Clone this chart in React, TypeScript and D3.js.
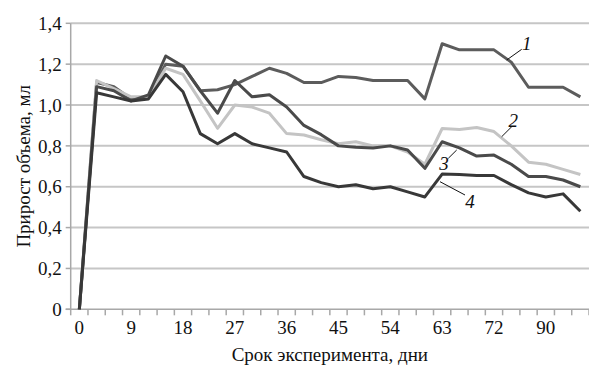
import React, { useEffect, useRef } from "react";
import * as d3 from "d3";

const W = 589, H = 365;

// days of experiment (category axis, every 3rd one labelled)
const days = [0, 3, 6, 9, 12, 15, 18, 21, 24, 27, 30, 33, 36, 39, 42, 45, 48, 51, 54, 57, 60, 63, 66, 69, 72, 78, 84, 90, 93, 96];

const s1 = [0, 1.11, 1.09, 1.03, 1.04, 1.2, 1.19, 1.07, 1.075, 1.1, 1.14, 1.18, 1.155, 1.11, 1.11, 1.14, 1.135, 1.12, 1.12, 1.12, 1.03, 1.3, 1.27, 1.27, 1.27, 1.21, 1.087, 1.087, 1.087, 1.04];
const s2 = [0, 1.12, 1.08, 1.04, 1.04, 1.18, 1.15, 1.02, 0.886, 1.0, 0.99, 0.96, 0.86, 0.853, 0.83, 0.81, 0.82, 0.8, 0.8, 0.77, 0.71, 0.885, 0.88, 0.89, 0.87, 0.8, 0.72, 0.71, 0.685, 0.66];
const s3 = [0, 1.09, 1.07, 1.02, 1.05, 1.24, 1.19, 1.07, 0.96, 1.12, 1.04, 1.05, 0.99, 0.9, 0.855, 0.8, 0.793, 0.79, 0.8, 0.78, 0.69, 0.82, 0.79, 0.75, 0.755, 0.71, 0.65, 0.65, 0.633, 0.6];
const s4 = [0, 1.06, 1.04, 1.02, 1.03, 1.15, 1.065, 0.86, 0.81, 0.86, 0.81, 0.79, 0.77, 0.65, 0.62, 0.6, 0.61, 0.59, 0.6, 0.575, 0.55, 0.662, 0.66, 0.655, 0.655, 0.61, 0.57, 0.55, 0.565, 0.48];

const series = [
    { name: "1", values: s1, color: "#5c5c5c" },
    { name: "2", values: s2, color: "#c4c4c4" },
    { name: "3", values: s3, color: "#4a4a4a" },
    { name: "4", values: s4, color: "#383838" },
];

const yTicks = [0, 0.2, 0.4, 0.6, 0.8, 1.0, 1.2, 1.4];

const margin = { top: 23.3, right: 0, bottom: 55.7, left: 70.7 };
const font = "Liberation Serif";

export default function App() {
    const ref = useRef<SVGSVGElement>(null);

    useEffect(() => {
        const svg = d3.select(ref.current);
        svg.selectAll("*").remove();

        const x = d3.scaleBand<number>()
            .domain(d3.range(days.length))
            .range([margin.left, W - margin.right]);
        const y = d3.scaleLinear()
            .domain([0, 1.4])
            .range([H - margin.bottom, margin.top]);
        const cx = (i: number) => x(i)! + x.bandwidth() / 2;

        // grid
        svg.append("g")
            .selectAll("line")
            .data(yTicks.filter(d => d > 0))
            .join("line")
            .attr("x1", margin.left).attr("x2", W)
            .attr("y1", d => y(d)).attr("y2", d => y(d))
            .attr("stroke", "#c6c6c6").attr("stroke-width", 2);

        // axes
        const ax = svg.append("g").attr("stroke", "#a8a8a8").attr("stroke-width", 1.5);
        ax.append("line")
            .attr("x1", margin.left).attr("x2", margin.left)
            .attr("y1", y(1.4)).attr("y2", y(0));
        ax.selectAll(".yt")
            .data(yTicks)
            .join("line")
            .attr("x1", margin.left - 5).attr("x2", margin.left)
            .attr("y1", d => y(d)).attr("y2", d => y(d));
        ax.append("line")
            .attr("x1", margin.left - 5).attr("x2", W)
            .attr("y1", y(0)).attr("y2", y(0));
        ax.selectAll(".xt")
            .data(d3.range(days.length + 1))
            .join("line")
            .attr("x1", i => margin.left + i * x.step())
            .attr("x2", i => margin.left + i * x.step())
            .attr("y1", y(0)).attr("y2", y(0) + 6);

        const txt = svg.append("g")
            .attr("font-family", font)
            .attr("fill", "#111");

        txt.append("g")
            .attr("font-size", 19)
            .attr("text-anchor", "end")
            .selectAll("text")
            .data(yTicks)
            .join("text")
            .attr("x", margin.left - 9)
            .attr("y", d => y(d))
            .attr("dy", "0.35em")
            .text(d => d === 0 ? "0" : d3.format(".1f")(d).replace(".", ","));

        txt.append("g")
            .attr("font-size", 19)
            .attr("text-anchor", "middle")
            .selectAll("text")
            .data(d3.range(0, days.length, 3))
            .join("text")
            .attr("x", i => cx(i))
            .attr("y", y(0) + 25)
            .text(i => days[i]);

        // lines
        const line = d3.line<number>()
            .x((_, i) => cx(i))
            .y(d => y(d));

        svg.append("g")
            .attr("fill", "none")
            .attr("stroke-width", 3)
            .attr("stroke-linejoin", "round")
            .selectAll("path")
            .data(series)
            .join("path")
            .attr("stroke", d => d.color)
            .attr("d", d => line(d.values));

        // callouts
        const notes = [
            { t: "1", lx: 526.7, ly: 43.3, l: [[506.7, 60], [521.7, 49.3]] },
            { t: "2", lx: 513.3, ly: 120, l: [[501.7, 136.7], [511.7, 126.7]] },
            { t: "3", lx: 444, ly: 163.3, l: [[448.3, 158.3], [456.7, 150]] },
            { t: "4", lx: 470, ly: 201.7, l: [[440, 181.7], [465, 195]] },
        ];
        svg.append("g")
            .attr("stroke", "#111").attr("stroke-width", 1)
            .selectAll("line")
            .data(notes)
            .join("line")
            .attr("x1", d => d.l[0][0]).attr("y1", d => d.l[0][1])
            .attr("x2", d => d.l[1][0]).attr("y2", d => d.l[1][1]);
        svg.append("g")
            .attr("font-family", font).attr("font-size", 19).attr("font-style", "italic")
            .attr("fill", "#111").attr("text-anchor", "middle")
            .selectAll("text")
            .data(notes)
            .join("text")
            .attr("x", d => d.lx).attr("y", d => d.ly)
            .attr("dy", "0.35em")
            .text(d => d.t);

        // axis titles
        txt.append("text")
            .attr("font-size", 19)
            .attr("text-anchor", "middle")
            .attr("x", (margin.left + W) / 2).attr("y", 361)
            .text("Срок эксперимента, дни");
        txt.append("text")
            .attr("font-size", 19)
            .attr("text-anchor", "middle")
            .attr("transform", `translate(30,${(y(0) + y(1.4)) / 2}) rotate(-90)`)
            .text("Прирост объема, мл");
    }, []);

    return (
        <svg ref={ref} width={W} height={H}
            style={{ position: "absolute", left: 0, top: 0, background: "#fff" }} />
    );
}
